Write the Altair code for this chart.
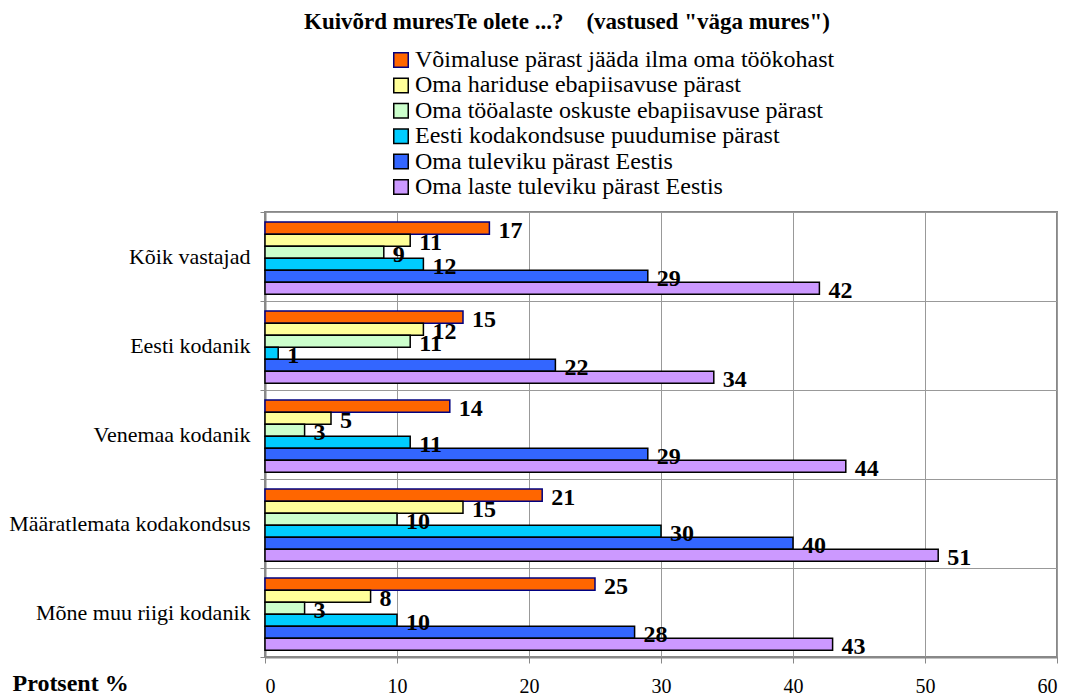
import altair as alt
import pandas as pd

categories = ["Kõik vastajad", "Eesti kodanik", "Venemaa kodanik",
              "Määratlemata kodakondsus", "Mõne muu riigi kodanik"]
series = ["Võimaluse pärast jääda ilma oma töökohast",
          "Oma hariduse ebapiisavuse pärast",
          "Oma tööalaste oskuste ebapiisavuse pärast",
          "Eesti kodakondsuse puudumise pärast",
          "Oma tuleviku pärast Eestis",
          "Oma laste tuleviku pärast Eestis"]
values = {
    "Kõik vastajad": [17, 11, 9, 12, 29, 42],
    "Eesti kodanik": [15, 12, 11, 1, 22, 34],
    "Venemaa kodanik": [14, 5, 3, 11, 29, 44],
    "Määratlemata kodakondsus": [21, 15, 10, 30, 40, 51],
    "Mõne muu riigi kodanik": [25, 8, 3, 10, 28, 43],
}
fills = ["#FF6600", "#FFFF99", "#CCFFCC", "#00CCFF", "#3366FF", "#CC99FF"]
strokes = ["#000080", "#000000", "#000000", "#000000", "#000000", "#000000"]
x_ticks = [0, 10, 20, 30, 40, 50, 60]

rows = []
for c in categories:
    for s, v in zip(series, values[c]):
        rows.append({"cat": c, "series": s, "value": v})
df = pd.DataFrame(rows)

FONT = "Liberation Serif"

y_enc = alt.Y("cat:N", sort=categories, title=None,
              scale=alt.Scale(paddingInner=0, paddingOuter=0),
              axis=alt.Axis(tickBand="extent", grid=True, gridColor="#999999",
                            domainColor="#888888", domainWidth=2, tickColor="#888888",
                            tickSize=5, labelFont=FONT, labelFontSize=22,
                            labelColor="black", labelPadding=10, labelLimit=400))
yoff = alt.YOffset("series:N", sort=series,
                   scale=alt.Scale(paddingInner=0, paddingOuter=0.7, align=0.6))
x_enc = alt.X("value:Q", scale=alt.Scale(domain=[0, 60], nice=False),
              axis=alt.Axis(values=x_ticks, grid=True, gridColor="#999999",
                            domainColor="#888888", domainWidth=2, tickColor="#888888",
                            tickSize=6, labelFont=FONT, labelFontSize=20,
                            labelColor="black", labelPadding=13,
                            title="Protsent %", titleFont=FONT,
                            titleFontSize=24, titleFontWeight="bold", titleColor="black",
                            titleX=-253, titleY=26, titleAlign="left",
                            titleBaseline="middle"))

legend = alt.Legend(title=None, orient="none", legendX=124, legendY=-164,
                    symbolType="square", symbolSize=210, symbolStrokeWidth=1.5,
                    labelFont=FONT, labelFontSize=24, labelColor="black",
                    labelLimit=700, rowPadding=1.4, labelOffset=2, symbolOpacity=1)

bars = alt.Chart(df).mark_bar(strokeWidth=1.5, opacity=1).encode(
    y=y_enc, yOffset=yoff, x=x_enc,
    fill=alt.Fill("series:N", sort=series,
                  scale=alt.Scale(domain=series, range=fills), legend=legend),
    stroke=alt.Stroke("series:N", sort=series,
                      scale=alt.Scale(domain=series, range=strokes), legend=legend),
)

labels = alt.Chart(df).mark_text(align="left", baseline="middle", dx=9, dy=3,
                                 font=FONT, fontSize=24, fontWeight="bold",
                                 color="black").encode(
    y=alt.Y("cat:N", sort=categories), yOffset=alt.YOffset("series:N", sort=series),
    x=alt.X("value:Q"), text=alt.Text("value:Q"))

chart = alt.layer(bars, labels).properties(
    width=792, height=445,
    autosize=alt.AutoSizeParams(type="none"),
    padding={"left": 257, "top": 204, "right": 7, "bottom": 41},
    title=alt.TitleParams(
        text="Kuivõrd muresTe olete ...?\u00a0\u00a0\u00a0\u00a0(vastused \"väga mures\")",
        font=FONT, fontSize=23, fontWeight="bold", color="black",
        anchor="middle", frame="group", dx=-94, offset=14),
).configure_view(stroke="#888888", strokeWidth=2)

chart.save("out.html", embed_options={"renderer": "svg", "actions": False})
